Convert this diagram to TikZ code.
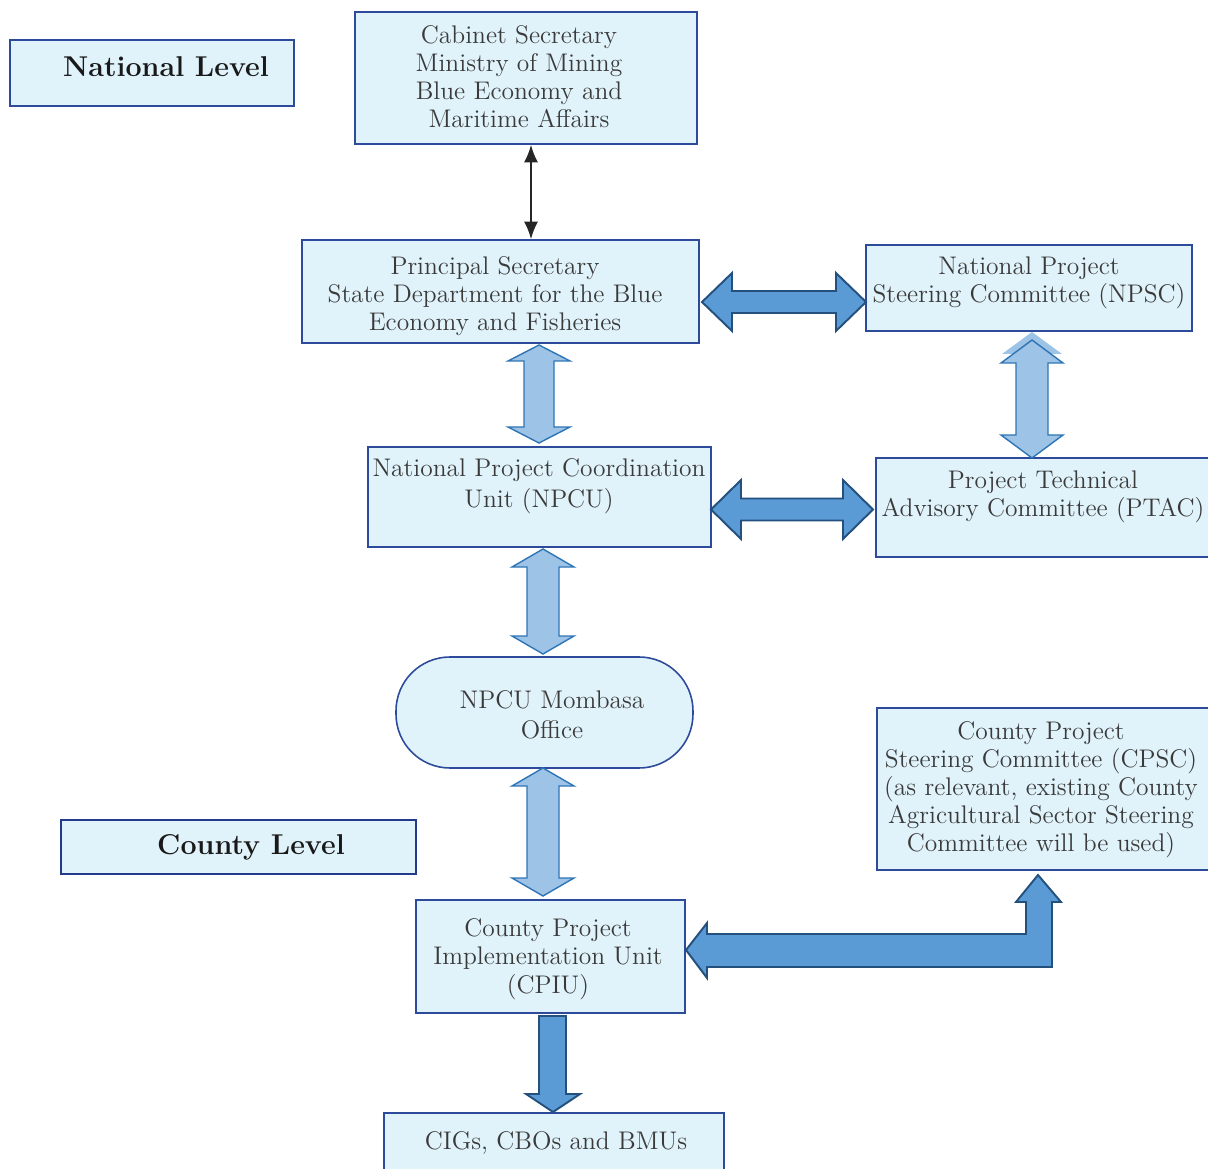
\documentclass[tikz,border=0pt]{standalone}
\usepackage{fontspec}
\usetikzlibrary{fit,arrows.meta}
\definecolor{boxfill}{HTML}{E0F2FA}
\definecolor{boxline}{HTML}{2E4B9B}
\definecolor{lvlline}{HTML}{23398A}
\definecolor{txtgray}{HTML}{3A3A3A}
\definecolor{darkfill}{HTML}{5B9BD5}
\definecolor{darkline}{HTML}{24507E}
\definecolor{lightfill}{HTML}{9DC3E6}
\definecolor{lightline}{HTML}{2E75B6}
\newcommand{\VDArrow}[7]{% style, x, y1, y2, head length, head half width, shaft half width
  \draw[#1] (#2,#3) -- ({#2+#6},{#3+#5}) -- ({#2+#7},{#3+#5}) -- ({#2+#7},{#4-#5}) -- ({#2+#6},{#4-#5}) -- (#2,#4)
    -- ({#2-#6},{#4-#5}) -- ({#2-#7},{#4-#5}) -- ({#2-#7},{#3+#5}) -- ({#2-#6},{#3+#5}) -- cycle;}
\newcommand{\HDArrow}[7]{% style, x1, x2, y, head length, head half width, shaft half width
  \draw[#1] (#2,#4) -- ({#2+#5},{#4-#6}) -- ({#2+#5},{#4-#7}) -- ({#3-#5},{#4-#7}) -- ({#3-#5},{#4-#6}) -- (#3,#4)
    -- ({#3-#5},{#4+#6}) -- ({#3-#5},{#4+#7}) -- ({#2+#5},{#4+#7}) -- ({#2+#5},{#4+#6}) -- cycle;}
\begin{document}
\begin{tikzpicture}[x=0.02cm,y=-0.02cm,
  box/.style={draw=boxline, fill=boxfill, line width=0.9pt, inner sep=0pt},
  lvlbox/.style={draw=lvlline, fill=boxfill, line width=1.7pt, inner sep=0pt},
  txt/.style={text=txtgray, align=center, inner sep=0pt, font=\fontsize{14.5}{15.9}\selectfont},
  lvltxt/.style={text=black!90, inner sep=0pt, font=\fontsize{16.3}{18}\selectfont\bfseries},
  darkarrow/.style={fill=darkfill, draw=darkline, line width=1.1pt, line join=miter},
  lightarrow/.style={fill=lightfill, draw=lightline, line width=0.8pt, line join=miter}]
\useasboundingbox (0,0) rectangle (1208,1169);

% boxes
\node[box, fit={(10,40) (294,106)}] (natl) {};
\node[lvltxt] (natl-t) at (166,67) {National Level};
\node[lvlbox, fit={(61,820) (416,874)}] (cnty) {};
\node[lvltxt] (cnty-t) at (251,847) {County Level};

\node[box, fit={(355,12) (697,144)}] (cs) {};
\node[txt] (cs-t) at (519,77) {Cabinet Secretary\\Ministry of Mining\\Blue Economy and\\Maritime Affairs};

\node[box, fit={(302,240) (699,343)}] (ps) {};
\node[txt] (ps-t) at (495,296) {Principal Secretary\\State Department for the Blue\\Economy and Fisheries};

\node[box, fit={(866,245) (1192,331)}] (npsc) {};
\node[txt] (npsc-t) at (1029,283) {National Project\\Steering Committee (NPSC)};

\node[box, fit={(368,447) (711,547)}] (npcu) {};
\node[txt, font=\fontsize{14.5}{17.6}\selectfont] (npcu-t) at (539,486) {National Project Coordination\\Unit (NPCU)};

\node[box, fit={(876,458) (1212,557)}] (ptac) {};
\node[txt] (ptac-t) at (1043,497) {Project Technical\\Advisory Committee (PTAC)};

\draw[box, rounded corners=1.08cm] (396,657) rectangle (693,768);
\node[inner sep=0pt, fit={(396,657) (693,768)}] (mom) {};
\node[txt, font=\fontsize{14.5}{17}\selectfont] (mom-t) at (552,715) {NPCU Mombasa\\Office};

\node[box, fit={(877,708) (1212,870)}] (cpsc) {};
\node[txt] (cpsc-t) at (1041,790) {County Project\\Steering Committee (CPSC)\\(as relevant, existing County\\Agricultural Sector Steering\\Committee will be used)};

\node[box, fit={(416,900) (685,1013)}] (cpiu) {};
\node[txt, font=\fontsize{14.5}{16.2}\selectfont] (cpiu-t) at (548,959) {County Project\\Implementation Unit\\(CPIU)};

\node[box, fit={(384,1113) (724,1175)}] (cig) {};
\node[txt] (cig-t) at (556,1143) {CIGs, CBOs and BMUs};

% thin black double arrow
\coordinate (ax) at (531,0);
\draw[line width=1.1pt, black!85, {Latex[length=10pt,width=8pt]}-{Latex[length=10pt,width=8pt]}] (cs.south -| ax) -- (ps.north -| ax);

% light vertical double arrows
\VDArrow{lightarrow}{539}{345}{443}{16}{31}{15}
\VDArrow{lightarrow}{543}{549}{654}{18}{31}{16}
\VDArrow{lightarrow}{543}{768}{896}{18}{31}{16}
\fill[lightfill] (1032,332) -- (1062,354) -- (1002,354) -- cycle;
\VDArrow{lightarrow}{1032}{340}{458}{23}{31}{16}

% dark horizontal double arrows
\HDArrow{darkarrow}{702}{866}{302}{30}{29}{11}
\HDArrow{darkarrow}{711}{873}{509.5}{30}{29.5}{11}

% bent arrow CPSC -> CPIU
\draw[darkarrow] (686,950) -- (707,923) -- (707,934) -- (1026,934) -- (1026,902) -- (1016,902) -- (1038,875)
  -- (1061,902) -- (1052,902) -- (1052,967) -- (707,967) -- (707,978) -- cycle;

% down arrow CPIU -> CIGs
\draw[darkarrow] (539,1016) -- (566,1016) -- (566,1094) -- (580,1094) -- (553,1112) -- (526,1094) -- (539,1094) -- cycle;
\end{tikzpicture}
\end{document}
